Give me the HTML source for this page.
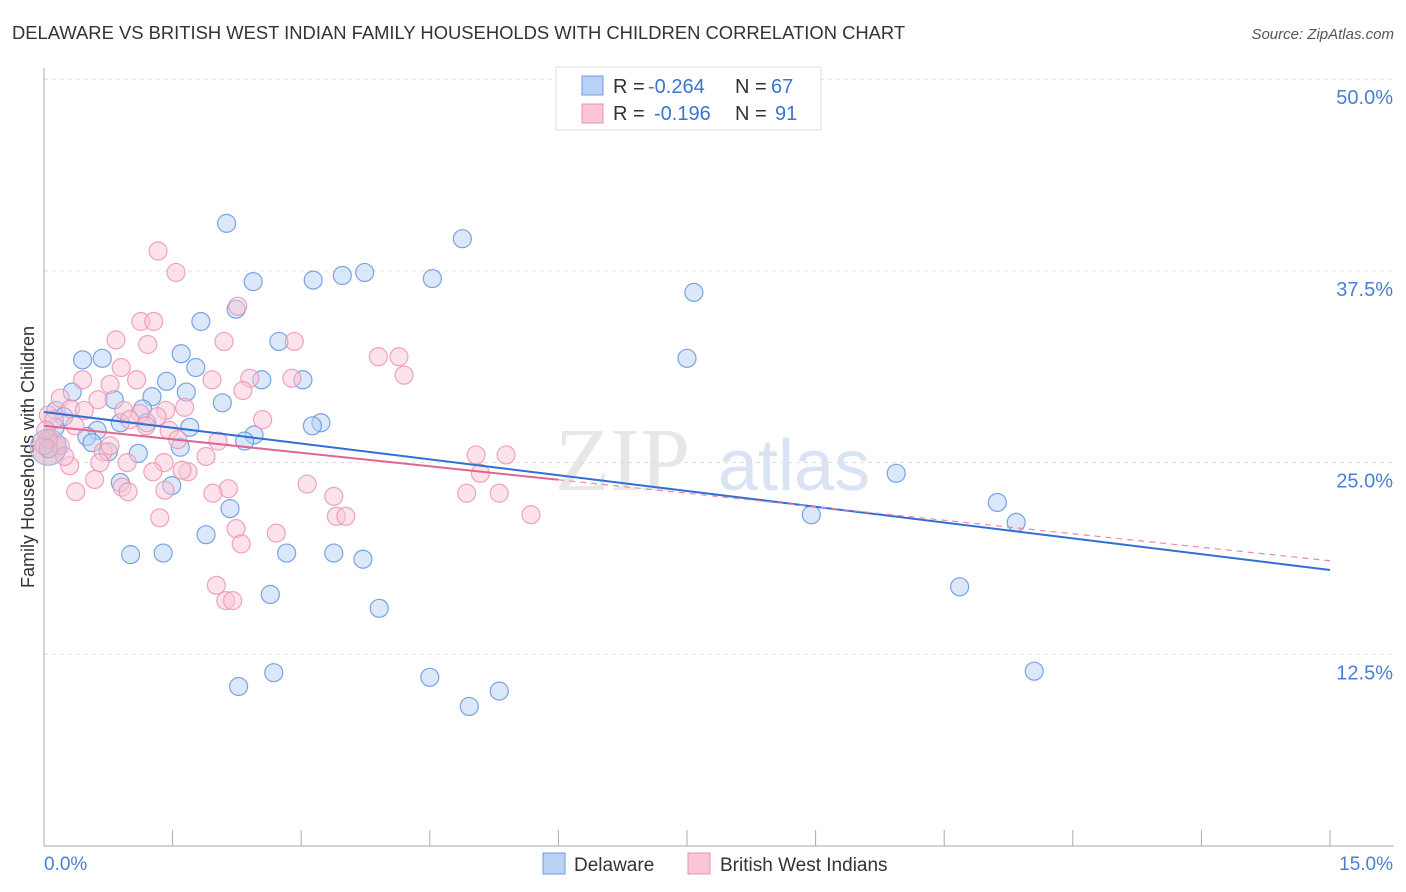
<!DOCTYPE html>
<html><head><meta charset="utf-8"><style>
body{margin:0;background:#fff;font-family:"Liberation Sans",sans-serif}
svg{display:block}
</style></head><body>
<svg width="1406" height="892" id="c">
<text x="12" y="39" font-size="18.4" fill="#333">DELAWARE VS BRITISH WEST INDIAN FAMILY HOUSEHOLDS WITH CHILDREN CORRELATION CHART</text>
<text x="1394" y="39" font-size="15" fill="#555" font-style="italic" text-anchor="end">Source: ZipAtlas.com</text>
<text transform="translate(34,457) rotate(-90)" font-size="18" fill="#333" text-anchor="middle">Family Households with Children</text>
<g><text x="555" y="490" font-size="90" font-family="Liberation Serif" fill="#ddd" opacity="0.7">ZIP</text><text x="718" y="490" font-size="72" fill="#c9d8ef" opacity="0.7">atlas</text></g>
<g id="grid"></g><g id="axes"></g><g id="pts"></g><g id="trend"></g>
<g>
<rect x="556" y="67" width="265" height="63" fill="#fff" stroke="#ddd"/>
<rect x="582" y="76" width="21" height="19" fill="#b8d1f5" stroke="#6b9be0"/>
<rect x="582" y="104" width="21" height="19" fill="#fac6d6" stroke="#ec8fae"/>
<g font-size="20" fill="#333">
<text x="613" y="93">R =</text><text x="648" y="93" fill="#3a74d0">-0.264</text><text x="735" y="93">N =</text><text x="771" y="93" fill="#3a74d0">67</text>
<text x="613" y="120">R =</text><text x="654" y="120" fill="#3a74d0">-0.196</text><text x="735" y="120">N =</text><text x="775" y="120" fill="#3a74d0">91</text>
</g>
</g>
<g>
<rect x="543" y="853" width="22" height="21" fill="#b8d1f5" stroke="#6b9be0"/>
<text x="574" y="871" font-size="19" fill="#333">Delaware</text>
<rect x="688" y="853" width="22" height="21" fill="#fac6d6" stroke="#ec8fae"/>
<text x="720" y="871" font-size="19" fill="#333">British West Indians</text>
</g>
</svg>
<script>
const blueX=[2.13,4.88,2.44,3.14,3.48,3.74,4.53,7.58,2.24,1.83,2.74,1.60,0.45,0.68,7.50,1.77,2.54,3.02,1.43,0.33,1.66,1.26,2.08,0.82,1.15,0.14,0.23,3.23,3.13,0.89,1.20,1.70,0.62,0.50,2.45,2.34,0.56,1.59,0.75,1.10,0.05,1.49,0.89,9.94,2.17,11.12,11.34,8.95,1.89,1.01,1.39,2.83,3.38,3.72,10.68,2.64,3.91,2.68,11.55,2.27,4.50,5.31,4.96,0.13];
const blueY=[40.6,39.6,36.8,36.9,37.2,37.4,37.0,36.1,35.0,34.2,32.9,32.1,31.7,31.8,31.8,31.2,30.4,30.4,30.3,29.6,29.6,29.3,28.9,29.1,28.5,28.4,28.0,27.6,27.4,27.6,27.6,27.3,27.1,26.7,26.8,26.4,26.3,26.0,25.7,25.6,25.9,23.5,23.7,24.3,22.0,22.4,21.1,21.6,20.3,19.0,19.1,19.1,19.1,18.7,16.9,16.4,15.5,11.3,11.4,10.4,11.0,10.1,9.1,27.3];
const pinkX=[1.33,1.54,2.26,1.13,1.28,0.84,1.21,2.10,2.92,0.90,4.14,3.90,4.20,0.45,0.77,1.08,1.96,2.40,2.89,2.32,0.19,0.63,0.93,1.42,1.64,0.31,0.47,1.12,2.55,0.05,0.12,1.00,1.32,1.46,0.36,1.19,1.56,2.03,0.19,0.69,1.89,0.97,1.40,0.30,0.65,1.27,1.68,1.61,0.59,0.91,0.37,1.41,2.15,3.07,1.97,3.38,4.93,5.31,5.09,5.04,5.39,3.41,3.52,5.68,1.35,2.24,2.30,2.71,2.01,2.12,2.20,0.05,0.0,0.02,0.77,0.24,0.98];
const pinkY=[38.8,37.4,35.2,34.2,34.2,33.0,32.7,32.9,32.9,31.2,31.9,31.9,30.7,30.4,30.1,30.4,30.4,30.5,30.5,29.7,29.2,29.1,28.4,28.4,28.6,28.5,28.4,28.2,27.8,28.1,27.8,27.8,28.0,27.1,27.4,27.4,26.5,26.4,26.1,25.7,25.4,25.0,25.0,24.8,25.0,24.4,24.4,24.5,23.9,23.4,23.1,23.2,23.3,23.6,23.0,22.8,23.0,23.0,24.3,25.5,25.5,21.5,21.5,21.6,21.4,20.7,19.7,20.4,17.0,16.0,16.0,26.5,26.1,27.1,26.1,25.4,23.1];
const yTicks=[12.5,25.0,37.5,50.0];
const yTickLabels=["12.5%","25.0%","37.5%","50.0%"];
const blueTrend=[28.3,18.0];
const pinkTrend=[27.4,18.6];
const pinkSolidEnd=6.0;
const NS="http://www.w3.org/2000/svg";
const sx=v=>44+v/15*1286, sy=v=>846-v/12.5*191.7;
function mk(t,a,p){const e=document.createElementNS(NS,t);for(const k in a)e.setAttribute(k,a[k]);p.appendChild(e);return e;}
const grid=document.getElementById('grid'),axes=document.getElementById('axes'),pts=document.getElementById('pts'),tr=document.getElementById('trend');
yTicks.forEach((t,i)=>{
 const l=mk('line',{x1:44,x2:1394,y1:sy(t),y2:sy(t),stroke:'#ddd','stroke-dasharray':'4,4'},grid);
 
 
 const tx=mk('text',{x:1393,y:sy(t)+25,'font-size':20,fill:'#4a7fd4','text-anchor':'end'},axes);
 tx.textContent=yTickLabels[i];
 
 
});
const ax=mk('line',{x1:44,x2:44,y1:68,y2:846,stroke:'#aaa'},axes);


const bx=mk('line',{x1:44,x2:1394,y1:846,y2:846,stroke:'#aaa'},axes);


for(let i=0;i<=10;i++){const t=mk('line',{x1:sx(i*1.5),x2:sx(i*1.5),y1:830,y2:846,stroke:'#aaa'},axes);
 
 }
[["0.0%",44,'start'],["15.0%",1393,'end']].forEach(d=>{const t=mk('text',{x:d[1],y:870,'font-size':19,fill:'#4a7fd4','text-anchor':d[2]},axes);t.textContent=d[0];
 
 });
function dots(X,Y,f,s,n){X.forEach((x,i)=>{const c=mk('circle',{cx:sx(x),cy:sy(Y[i]),r:9,fill:f,'fill-opacity':0.5,stroke:s,'stroke-width':1.2,'stroke-opacity':0.8},pts);
 
 });}
dots(blueX,blueY,'#b8d1f5','#5b8fdc','delaware-point');
dots(pinkX,pinkY,'#fac6d6','#ec8fae','bwi-point');
const bg=mk('circle',{cx:sx(0.05),cy:sy(26),r:18,fill:'#d8b0c8','fill-opacity':0.6,stroke:'#9ab5e5'},pts);


const bl=mk('line',{x1:sx(0),y1:sy(blueTrend[0]),x2:sx(15),y2:sy(blueTrend[1]),stroke:'#2f6fd6','stroke-width':2},tr);


const py=x=>pinkTrend[0]+(pinkTrend[1]-pinkTrend[0])*x/15;
const pl=mk('line',{x1:sx(0),y1:sy(py(0)),x2:sx(pinkSolidEnd),y2:sy(py(pinkSolidEnd)),stroke:'#e0668f','stroke-width':2},tr);


const pd=mk('line',{x1:sx(pinkSolidEnd),y1:sy(py(pinkSolidEnd)),x2:sx(15),y2:sy(py(15)),stroke:'#e88aaa','stroke-width':1.2,'stroke-dasharray':'6,5'},tr);


</script>
</body></html>
